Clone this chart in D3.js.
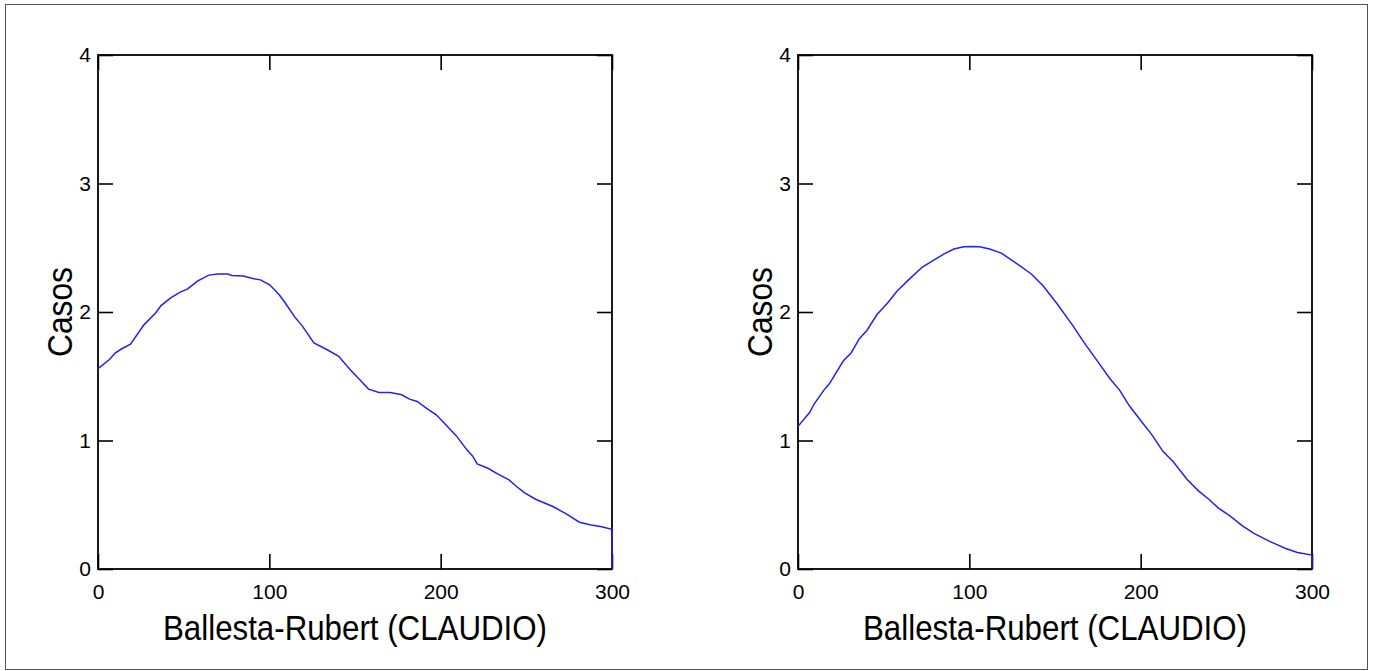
<!DOCTYPE html>
<html>
<head>
<meta charset="utf-8">
<script src="https://cdn.jsdelivr.net/npm/d3@7"></script>
<style>
  html, body { margin: 0; padding: 0; background: #fff; }
  svg { display: block; }
  text { font-family: "Liberation Sans", Arial, sans-serif; fill: #000; }
</style>
</head>
<body>
<svg id="chart" width="1374" height="671"></svg>
<script>
// ---- data ----
const xTicks = [0, 100, 200, 300];
const yTicks = [0, 1, 2, 3, 4];
const xTitle = "Ballesta-Rubert (CLAUDIO)";
const yTitle = "Casos";

const leftX = [0, 6.7, 10, 13.4, 19, 26.8, 33.5, 36.8, 42.4, 48, 52.4, 58, 64.7, 70, 75.8, 78, 84.8, 90.3, 94.8, 100.4, 106, 109.3, 114.9, 119.3, 126, 133.8, 140.5, 147.2, 152.8, 157.9, 164, 170.6, 177.3, 181.8, 186.3, 191.8, 197.4, 203, 209.2, 215.3, 218.6, 221.3, 227.6, 233.2, 239.9, 244.3, 248.8, 255.4, 265.5, 273.3, 281, 287.8, 293.3, 300, 300];
const leftY = [1.56, 1.63, 1.68, 1.71, 1.75, 1.90, 1.99, 2.05, 2.11, 2.155, 2.18, 2.24, 2.287, 2.295, 2.295, 2.284, 2.28, 2.26, 2.25, 2.21, 2.13, 2.07, 1.96, 1.89, 1.76, 1.706, 1.655, 1.55, 1.473, 1.40, 1.374, 1.374, 1.356, 1.322, 1.304, 1.25, 1.20, 1.122, 1.036, 0.927, 0.88, 0.818, 0.784, 0.74, 0.693, 0.642, 0.595, 0.543, 0.486, 0.429, 0.364, 0.343, 0.33, 0.309, 0];

const rightX = [0, 6.9, 9.2, 15, 18.4, 26.5, 31.1, 35.7, 40.3, 46.1, 52.3, 57.6, 64.5, 72.6, 79.5, 85.3, 91, 96.8, 101.5, 106, 111.8, 118.7, 127.9, 136, 142.9, 151, 160.2, 167.1, 175.1, 182, 187.8, 193.5, 201.6, 206.2, 213.1, 218.9, 227, 233.9, 239.6, 245.4, 252.3, 259.2, 266.1, 275.3, 284.6, 291.5, 300, 300];
const rightY = [1.11, 1.22, 1.28, 1.39, 1.443, 1.62, 1.683, 1.79, 1.858, 1.98, 2.07, 2.16, 2.25, 2.35, 2.406, 2.452, 2.49, 2.508, 2.51, 2.508, 2.49, 2.458, 2.375, 2.298, 2.206, 2.068, 1.898, 1.76, 1.612, 1.483, 1.39, 1.268, 1.129, 1.052, 0.914, 0.837, 0.698, 0.606, 0.545, 0.474, 0.412, 0.338, 0.277, 0.215, 0.16, 0.129, 0.108, 0];

// ---- layout ----
const svg = d3.select("#chart");
svg.append("rect")
  .attr("x", 5.5).attr("y", 4.5).attr("width", 1362).attr("height", 665)
  .attr("fill", "none").attr("stroke", "#555").attr("stroke-width", 1);

const panels = [
  { left: 98, xs: leftX, ys: leftY },
  { left: 798, xs: rightX, ys: rightY }
];
const plotTop = 55, plotW = 514, plotH = 514;
const tickLen = 15;

panels.forEach(p => {
  const g = svg.append("g").attr("transform", `translate(${p.left},${plotTop})`);
  const x = d3.scaleLinear().domain([0, 300]).range([0, plotW]);
  const y = d3.scaleLinear().domain([0, 4]).range([plotH, 0]);

  // axes with inward ticks
  const styleAxis = sel => {
    sel.select(".domain").remove();
    sel.selectAll(".tick line").attr("stroke", "#000").attr("stroke-width", 1.6);
    sel.selectAll(".tick text").style("font-size", "21px").style("font-family", '"Liberation Sans", Arial, sans-serif');
  };
  g.append("g").attr("transform", `translate(0,${plotH})`)
    .call(d3.axisBottom(x).tickValues(xTicks).tickFormat(d3.format("d")).tickSizeInner(-tickLen).tickSizeOuter(0).tickPadding(15))
    .call(styleAxis);
  g.append("g")
    .call(d3.axisTop(x).tickValues(xTicks).tickFormat("").tickSizeInner(-tickLen).tickSizeOuter(0))
    .call(styleAxis);
  g.append("g")
    .call(d3.axisLeft(y).tickValues(yTicks).tickFormat(d3.format("d")).tickSizeInner(-tickLen).tickSizeOuter(0).tickPadding(7))
    .call(styleAxis);
  g.append("g").attr("transform", `translate(${plotW},0)`)
    .call(d3.axisRight(y).tickValues(yTicks).tickFormat("").tickSizeInner(-tickLen).tickSizeOuter(0))
    .call(styleAxis);

  // frame
  g.append("rect")
    .attr("x", 0).attr("y", 0).attr("width", plotW).attr("height", plotH)
    .attr("fill", "none").attr("stroke", "#000").attr("stroke-width", 1.8);

  // data line (drawn over the frame, like the reference)
  const pts = p.xs.map((v, i) => [v, p.ys[i]]);
  g.append("path")
    .datum(pts)
    .attr("fill", "none")
    .attr("stroke", "#2222ee")
    .attr("stroke-width", 1.5)
    .attr("d", d3.line().x(d => x(d[0])).y(d => y(d[1])));

  // titles
  g.append("text")
    .attr("x", plotW / 2).attr("y", 585)
    .attr("text-anchor", "middle")
    .style("font-size", "35px")
    .attr("textLength", 384).attr("lengthAdjust", "spacingAndGlyphs")
    .text(xTitle);
  g.append("text")
    .attr("transform", `translate(${72 - 98},${plotH / 2}) rotate(-90)`)
    .attr("text-anchor", "middle")
    .style("font-size", "35px")
    .attr("textLength", 90).attr("lengthAdjust", "spacingAndGlyphs")
    .text(yTitle);
});
</script>
</body>
</html>
